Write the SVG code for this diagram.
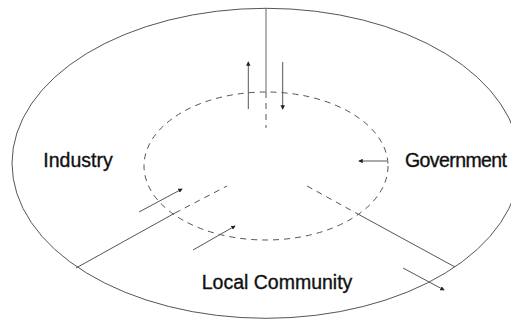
<svg xmlns="http://www.w3.org/2000/svg" width="511" height="320" viewBox="0 0 511 320">
<defs>
<style>
.ln{stroke:#555;stroke-width:1;fill:none}
.vl{stroke:#888;stroke-width:1.3;fill:none}
.dash{stroke:#555;stroke-width:1;fill:none;stroke-dasharray:6 5}
.ar{stroke:#555;stroke-width:1;fill:none;marker-end:url(#ah)}
.lbl{font-family:"Liberation Sans",Arial,sans-serif;font-size:19.5px;fill:#111;stroke:#111;stroke-width:0.35}
</style>
<marker id="ah" viewBox="0 0 6 6" refX="5" refY="3" markerWidth="4.5" markerHeight="4.5" orient="auto" markerUnits="userSpaceOnUse">
<path d="M0,0 L6,3 L0,6 z" fill="#222"/>
</marker>
</defs>
<rect width="511" height="320" fill="#fff"/>
<g id="outer"><ellipse cx="266" cy="163.3" rx="254" ry="155" class="ln"/></g>
<g id="inner"><ellipse cx="266" cy="166" rx="122" ry="74" class="dash"/></g>
<g id="connectors">
<line x1="266" y1="9" x2="266" y2="92" class="vl"/>
<line x1="266" y1="92" x2="266" y2="128" class="dash" stroke="#888"/>
<line x1="76" y1="268" x2="175" y2="213" class="ln"/>
<line x1="175" y1="213" x2="227" y2="186" class="dash"/>
<line x1="307" y1="186" x2="356" y2="213" class="dash"/>
<line x1="356" y1="213" x2="455" y2="267" class="ln"/>
<line x1="248.3" y1="109" x2="248.3" y2="62" class="ar" stroke="#888"/>
<line x1="282.7" y1="62" x2="282.7" y2="109" class="ar" stroke="#888"/>
<line x1="139" y1="212" x2="182" y2="189" class="ar"/>
<line x1="193" y1="250" x2="235" y2="226" class="ar"/>
<line x1="403" y1="268" x2="444" y2="290" class="ar"/>
<line x1="387" y1="161" x2="359" y2="161" class="ar"/>
</g>
<g id="industry"><text x="43.3" y="166.7" class="lbl">Industry</text></g>
<g id="government"><text x="405" y="167.3" class="lbl" textLength="102">Government</text></g>
<g id="local-community"><text x="201.7" y="289" class="lbl">Local Community</text></g>
</svg>
